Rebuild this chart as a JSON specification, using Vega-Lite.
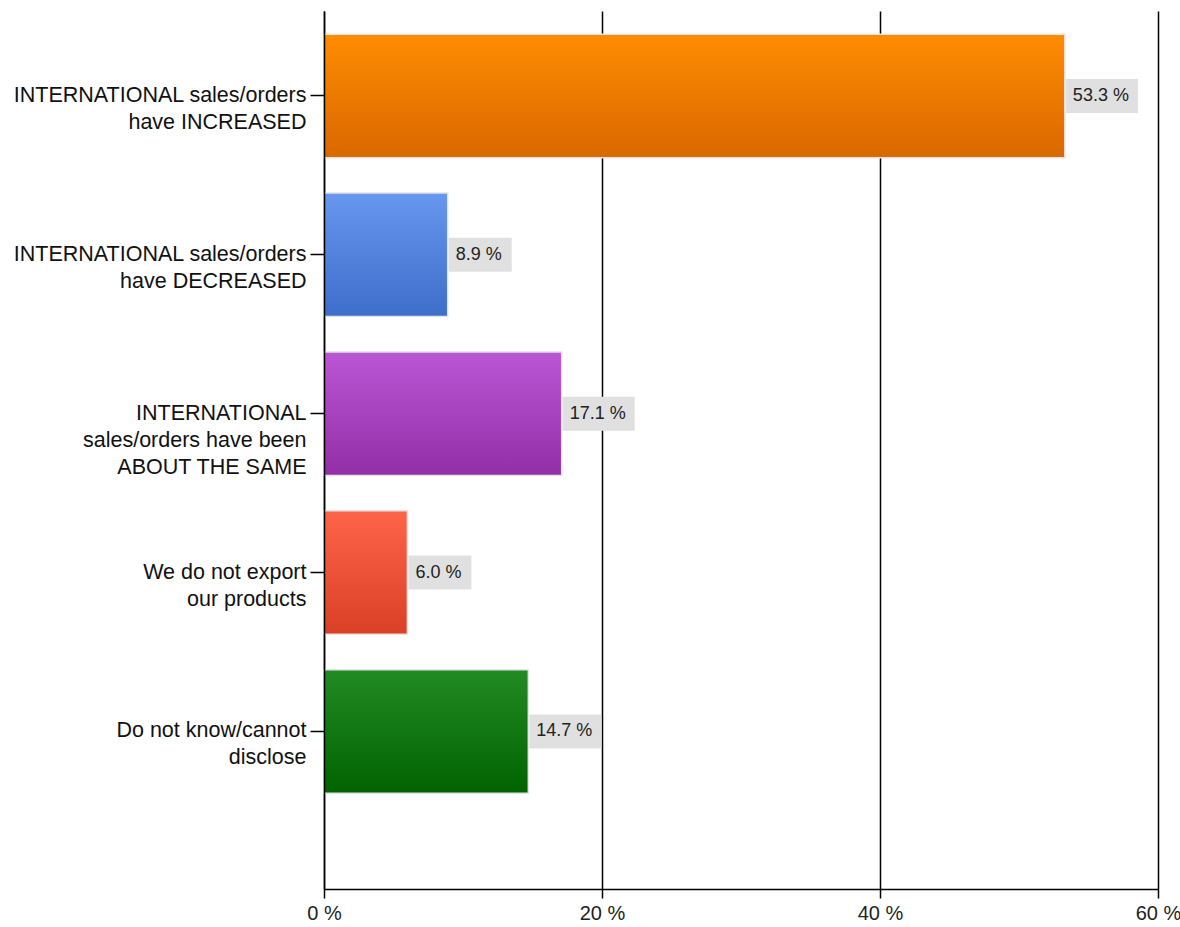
{
  "$schema": "https://vega.github.io/schema/vega-lite/v6.json",
  "width": 834,
  "height": 878,
  "autosize": "none",
  "padding": {"left": 324, "top": 11, "right": 22, "bottom": 38},
  "background": "white",
  "config": {"view": {"stroke": null}, "font": "Liberation Sans"},
  "data": {
    "values": [
      {"answer": "INTERNATIONAL sales/orders\nhave INCREASED", "value": 53.3},
      {"answer": "INTERNATIONAL sales/orders\nhave DECREASED", "value": 8.9},
      {"answer": "INTERNATIONAL\nsales/orders have been\nABOUT THE SAME", "value": 17.1},
      {"answer": "We do not export\nour products", "value": 6.0},
      {"answer": "Do not know/cannot\ndisclose", "value": 14.7}
    ]
  },
  "encoding": {
    "y": {
      "field": "answer",
      "type": "nominal",
      "sort": null,
      "scale": {
        "domain": [
          "INTERNATIONAL sales/orders\nhave INCREASED",
          "INTERNATIONAL sales/orders\nhave DECREASED",
          "INTERNATIONAL\nsales/orders have been\nABOUT THE SAME",
          "We do not export\nour products",
          "Do not know/cannot\ndisclose"
        ],
        "paddingInner": 0.2227,
        "paddingOuter": 0.3745,
        "align": 0.195
      },
      "axis": {
        "title": null,
        "zindex": 1,
        "domainColor": "black",
        "domainWidth": 1.5,
        "tickColor": "black",
        "tickWidth": 1.5,
        "tickSize": 14,
        "labelFontSize": 21.5,
        "labelLineHeight": 27,
        "labelColor": "#111111",
        "labelPadding": 4,
        "labelLimit": 400,
        "labelExpr": "split(datum.label, '\\n')"
      }
    },
    "x": {
      "field": "value",
      "type": "quantitative",
      "scale": {"domain": [0, 60], "nice": false},
      "axis": {
        "title": null,
        "values": [0, 20, 40, 60],
        "labelExpr": "datum.value + ' %'",
        "grid": true,
        "gridColor": "black",
        "gridWidth": 1.5,
        "gridOpacity": 1,
        "domainColor": "black",
        "domainWidth": 1.5,
        "tickColor": "black",
        "tickWidth": 1.5,
        "tickSize": 9,
        "labelFontSize": 20,
        "labelColor": "#222222",
        "labelPadding": 5,
        "labelFlush": false
      }
    }
  },
  "layer": [
    {
      "transform": [{"filter": "datum.value == 53.3"}],
      "mark": {"type": "bar", "stroke": "#e4e4e4", "strokeWidth": 1.5,
        "fill": {"gradient": "linear", "x1": 0, "y1": 0, "x2": 0, "y2": 1,
          "stops": [{"offset": 0, "color": "#ff8c00"}, {"offset": 1, "color": "#d96800"}]}}
    },
    {
      "transform": [{"filter": "datum.value == 8.9"}],
      "mark": {"type": "bar", "stroke": "#e4e4e4", "strokeWidth": 1.5,
        "fill": {"gradient": "linear", "x1": 0, "y1": 0, "x2": 0, "y2": 1,
          "stops": [{"offset": 0, "color": "#6797ee"}, {"offset": 1, "color": "#3d6ecb"}]}}
    },
    {
      "transform": [{"filter": "datum.value == 17.1"}],
      "mark": {"type": "bar", "stroke": "#e4e4e4", "strokeWidth": 1.5,
        "fill": {"gradient": "linear", "x1": 0, "y1": 0, "x2": 0, "y2": 1,
          "stops": [{"offset": 0, "color": "#bb56d4"}, {"offset": 1, "color": "#922fa6"}]}}
    },
    {
      "transform": [{"filter": "datum.value == 6.0"}],
      "mark": {"type": "bar", "stroke": "#e4e4e4", "strokeWidth": 1.5,
        "fill": {"gradient": "linear", "x1": 0, "y1": 0, "x2": 0, "y2": 1,
          "stops": [{"offset": 0, "color": "#fd6448"}, {"offset": 1, "color": "#d94026"}]}}
    },
    {
      "transform": [{"filter": "datum.value == 14.7"}],
      "mark": {"type": "bar", "stroke": "#e4e4e4", "strokeWidth": 1.5,
        "fill": {"gradient": "linear", "x1": 0, "y1": 0, "x2": 0, "y2": 1,
          "stops": [{"offset": 0, "color": "#238b23"}, {"offset": 1, "color": "#006300"}]}}
    },
    {
      "mark": {"type": "point", "filled": true, "color": "#e0e0e0", "opacity": 1, "size": 1156, "xOffset": 1, "strokeWidth": 0},
      "encoding": {
        "shape": {
          "condition": {"test": "datum.value >= 10", "value": "M0,-1H4.235V1H0Z"},
          "value": "M0,-1H3.706V1H0Z"
        }
      }
    },
    {
      "transform": [{"calculate": "format(datum.value, '.1f') + ' %'", "as": "label"}],
      "mark": {"type": "text", "align": "left", "baseline": "middle", "dx": 8, "fontSize": 18, "color": "#222222"},
      "encoding": {"text": {"field": "label"}}
    }
  ]
}
